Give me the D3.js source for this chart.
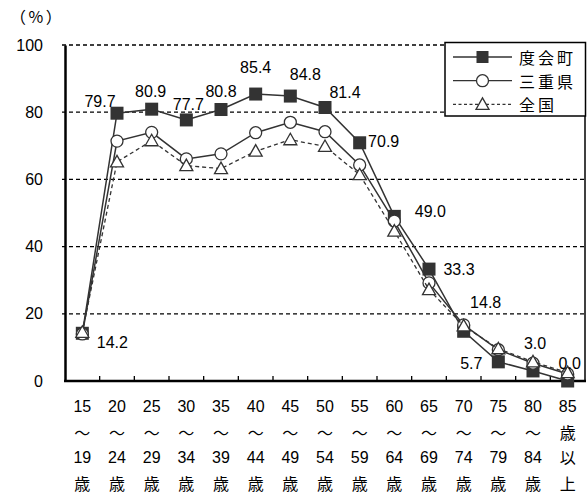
<!DOCTYPE html>
<html>
<head>
<meta charset="utf-8">
<script src="https://cdn.jsdelivr.net/npm/d3@7/dist/d3.min.js"></script>
<style>
  html, body { margin: 0; padding: 0; background: #fff; }
  svg { display: block; }
  text { font-family: "Liberation Sans", Arial, "Noto Sans CJK JP", sans-serif; fill: #000; }
  .jp { font-family: "Noto Sans CJK JP", sans-serif; }
</style>
</head>
<body>
<svg id="chart" width="587" height="495"></svg>
<script>
// Labour force participation rate by age group (%)
const ageGroups = ["15～19歳", "20～24歳", "25～29歳", "30～34歳", "35～39歳", "40～44歳", "45～49歳",
  "50～54歳", "55～59歳", "60～64歳", "65～69歳", "70～74歳", "75～79歳", "80～84歳", "85歳以上"];

// Multi-line tick labels under each age group
const tickLabels = [
  ["15", "～", "19", "歳"], ["20", "～", "24", "歳"], ["25", "～", "29", "歳"],
  ["30", "～", "34", "歳"], ["35", "～", "39", "歳"], ["40", "～", "44", "歳"],
  ["45", "～", "49", "歳"], ["50", "～", "54", "歳"], ["55", "～", "59", "歳"],
  ["60", "～", "64", "歳"], ["65", "～", "69", "歳"], ["70", "～", "74", "歳"],
  ["75", "～", "79", "歳"], ["80", "～", "84", "歳"], ["85", "歳", "以", "上"]
];

const watarai = [14.2, 79.7, 80.9, 77.7, 80.8, 85.4, 84.8, 81.4, 70.9, 49.0, 33.3, 14.8, 5.7, 3.0, 0.0];
const mie     = [14.0, 71.4, 74.0, 66.1, 67.6, 73.9, 77.0, 74.2, 64.3, 47.6, 29.2, 16.7, 9.3, 5.3, 2.1];
const japan   = [14.5, 65.2, 71.5, 64.1, 63.2, 68.4, 71.8, 69.8, 61.4, 44.6, 27.2, 16.4, 9.6, 5.7, 2.5];

const seriesNames = ["度会町", "三重県", "全国"];
const yTicks = [0, 20, 40, 60, 80, 100];

// Offsets of each value label from its marker (dx, dy)
const labelOffsets = [[30, 9], [-17, -12], [-1, -18], [2, -15], [0, -18], [0, -27], [15, -22],
  [20, -15], [24, -1], [36, -5], [30, 0], [22, -29], [-27, 2], [2, -27], [2, -18]];

const svg = d3.select("#chart");
const plot = { left: 65, right: 585, top: 45, bottom: 381 };
const ink = "#333";

const x = d3.scaleBand().domain(ageGroups).range([plot.left, plot.right]);
const y = d3.scaleLinear().domain([0, 100]).range([plot.bottom, plot.top]);
const cx = d => x(d) + x.bandwidth() / 2;

// Horizontal dashed grid lines (including the top edge at 100)
svg.append("g").selectAll("line").data(yTicks.filter(t => t > 0)).join("line")
  .attr("x1", plot.left - 3).attr("x2", plot.right)
  .attr("y1", d => y(d)).attr("y2", d => y(d))
  .attr("stroke", "#000").attr("stroke-width", 1.3).attr("stroke-dasharray", "4,3");

// Right border
svg.append("line").attr("x1", plot.right).attr("x2", plot.right)
  .attr("y1", plot.top).attr("y2", plot.bottom)
  .attr("stroke", "#000").attr("stroke-width", 1.5);

// Y axis
const yAxis = svg.append("g").attr("transform", `translate(${plot.left},0)`)
  .call(d3.axisLeft(y).tickValues(yTicks).tickSize(0).tickPadding(22));
yAxis.select(".domain").attr("stroke", "#000").attr("stroke-width", 2.5);
yAxis.selectAll("text").attr("font-size", 16).attr("font-family", null);

// X axis with inner tick marks at group boundaries
svg.append("line").attr("x1", plot.left - 1).attr("x2", plot.right + 1)
  .attr("y1", plot.bottom).attr("y2", plot.bottom)
  .attr("stroke", "#000").attr("stroke-width", 2.5);
svg.append("g").selectAll("line").data(ageGroups.slice(1)).join("line")
  .attr("x1", d => x(d)).attr("x2", d => x(d))
  .attr("y1", plot.bottom).attr("y2", plot.bottom - 5)
  .attr("stroke", "#000").attr("stroke-width", 1.3);

// Stacked tick labels
const tickG = svg.append("g").selectAll("g").data(ageGroups).join("g")
  .attr("transform", d => `translate(${cx(d)},0)`);
tickG.each(function (d, i) {
  d3.select(this).selectAll("text").data(tickLabels[i]).join("text")
    .attr("class", t => /\d/.test(t) ? null : "jp")
    .attr("x", 0).attr("y", (t, k) => 406 + k * 25.6)
    .attr("text-anchor", "middle").attr("dominant-baseline", "central")
    .attr("font-size", 16)
    .text(t => t);
});

// Unit label
svg.append("text").attr("class", "jp").attr("x", 10).attr("y", 16)
  .attr("dominant-baseline", "central").attr("font-size", 16)
  .attr("letter-spacing", 2.5).text("（%）");

// Series lines and markers
const line = d3.line().x((v, i) => cx(ageGroups[i])).y(v => y(v));

function squareMarker(g, vals) {
  g.selectAll("rect").data(vals).join("rect")
    .attr("x", (v, i) => cx(ageGroups[i]) - 6.5).attr("y", v => y(v) - 6.5)
    .attr("width", 13).attr("height", 13).attr("fill", ink);
}
function circleMarker(g, vals) {
  g.selectAll("circle").data(vals).join("circle")
    .attr("cx", (v, i) => cx(ageGroups[i])).attr("cy", v => y(v)).attr("r", 6)
    .attr("fill", "#fff").attr("stroke", ink).attr("stroke-width", 1.3);
}
const triPath = "M0,-6.5L6.5,5L-6.5,5Z";
function triangleMarker(g, vals) {
  g.selectAll("path.m").data(vals).join("path").attr("class", "m")
    .attr("d", triPath)
    .attr("transform", (v, i) => `translate(${cx(ageGroups[i])},${y(v)})`)
    .attr("fill", "#fff").attr("stroke", ink).attr("stroke-width", 1.3);
}

const gW = svg.append("g");
gW.append("path").datum(watarai).attr("d", line).attr("fill", "none")
  .attr("stroke", ink).attr("stroke-width", 1.5);
const gM = svg.append("g");
gM.append("path").datum(mie).attr("d", line).attr("fill", "none")
  .attr("stroke", ink).attr("stroke-width", 1.5);
const gJ = svg.append("g");
gJ.append("path").datum(japan).attr("d", line).attr("fill", "none")
  .attr("stroke", ink).attr("stroke-width", 1.3).attr("stroke-dasharray", "4,3");

squareMarker(gW, watarai);
circleMarker(gM, mie);
triangleMarker(gJ, japan);

// Value labels for 度会町
svg.append("g").selectAll("text").data(watarai).join("text")
  .attr("x", (v, i) => cx(ageGroups[i]) + labelOffsets[i][0])
  .attr("y", (v, i) => y(v) + labelOffsets[i][1])
  .attr("text-anchor", "middle").attr("dominant-baseline", "central")
  .attr("font-size", 16)
  .text(v => v.toFixed(1));

// Legend
const lg = svg.append("g");
lg.append("rect").attr("x", 445).attr("y", 42.5).attr("width", 140.5).attr("height", 73.5)
  .attr("fill", "#fff").attr("stroke", "#000").attr("stroke-width", 1.5);
const legendRows = [
  { name: seriesNames[0], dash: null, marker: "square" },
  { name: seriesNames[1], dash: null, marker: "circle" },
  { name: seriesNames[2], dash: "3,2.5", marker: "triangle" }
];
legendRows.forEach((r, k) => {
  const ly = 57 + k * 23.7;
  lg.append("line").attr("x1", 453).attr("x2", 512).attr("y1", ly).attr("y2", ly)
    .attr("stroke", ink).attr("stroke-width", 1.3).attr("stroke-dasharray", r.dash);
  if (r.marker === "square") {
    lg.append("rect").attr("x", 482.5 - 6).attr("y", ly - 6).attr("width", 12).attr("height", 12).attr("fill", ink);
  } else if (r.marker === "circle") {
    lg.append("circle").attr("cx", 482.5).attr("cy", ly).attr("r", 6)
      .attr("fill", "#fff").attr("stroke", ink).attr("stroke-width", 1.3);
  } else {
    lg.append("path").attr("d", triPath).attr("transform", `translate(482.5,${ly})`)
      .attr("fill", "#fff").attr("stroke", ink).attr("stroke-width", 1.3);
  }
  lg.append("text").attr("class", "jp").attr("x", 519).attr("y", ly)
    .attr("dominant-baseline", "central").attr("font-size", 16)
    .attr("letter-spacing", 3).text(r.name);
});
</script>
</body>
</html>
